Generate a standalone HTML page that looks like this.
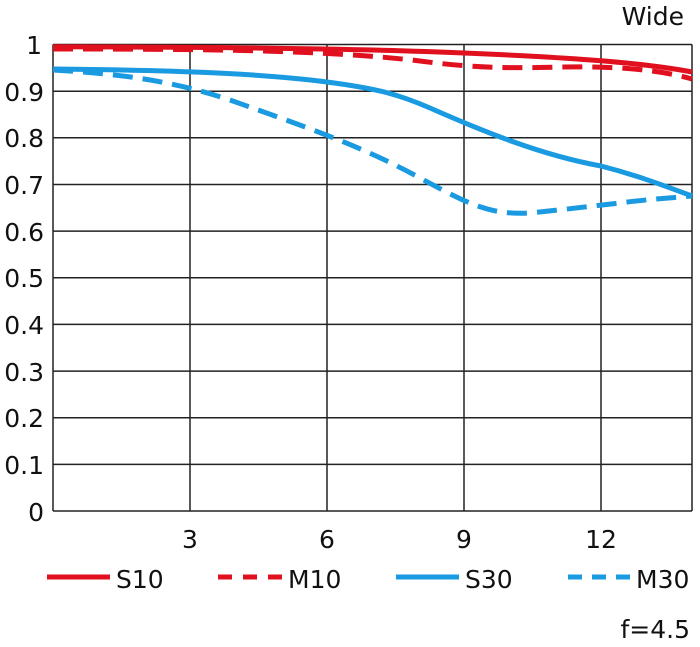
<!DOCTYPE html>
<html><head><style>body{margin:0;background:#fff}svg{display:block}</style></head><body>
<svg width="700" height="647" viewBox="0 0 700 647" xmlns="http://www.w3.org/2000/svg" font-family="'DejaVu Sans','Liberation Sans',sans-serif" font-size="25" fill="#111">
<g stroke="#222" stroke-width="1.5" fill="none">
<path d="M53 44.5H692M53 91.2H692M53 137.8H692M53 184.5H692M53 231.1H692M53 277.8H692M53 324.4H692M53 371.1H692M53 417.7H692M53 464.4H692M53 511H692"/>
<path d="M53 44.5V511M190 44.5V511M327 44.5V511M464 44.5V511M601 44.5V511M692 44.5V511"/>
</g>
<g text-anchor="end">
<text x="42" y="54">1</text><text x="44" y="101">0.9</text><text x="44" y="147">0.8</text><text x="44" y="194">0.7</text><text x="44" y="241">0.6</text><text x="44" y="287">0.5</text><text x="44" y="334">0.4</text><text x="44" y="381">0.3</text><text x="44" y="427">0.2</text><text x="44" y="474">0.1</text><text x="44" y="521">0</text>
</g>
<g text-anchor="middle"><text x="190" y="548">3</text><text x="327" y="548">6</text><text x="464" y="548">9</text><text x="601" y="548">12</text></g>
<text x="684" y="25" text-anchor="end">Wide</text>
<text x="690" y="638" text-anchor="end">f=4.5</text>
<g fill="none" stroke-width="5">
<path stroke="#e0101e" d="M53 46.8 C200 47,350 48,464 53 C560 57,640 62,692 72"/>
<path stroke="#e0101e" stroke-dasharray="20,10" d="M53 49 C200 49,330 50,420 61 C480 69,520 68,560 67 C620 66,660 70,692 79"/>
<path stroke="#1a9ae0" d="M53 69 C150 70,250 72,327 82 C380 89,400 95,430 108 C480 130,540 155,601 166 C640 176,670 188,692 196"/>
<path stroke="#1a9ae0" stroke-dasharray="20,10" d="M53 70 C120 74,170 80,230 100 C300 125,360 145,420 178 C470 205,490 215,530 213 C570 209,600 205,620 203 C650 199,670 198,692 196"/>
<path stroke="#e0101e" d="M47 577H110"/>
<path stroke="#e0101e" d="M218 577H282" stroke-dasharray="14,11"/>
<path stroke="#1a9ae0" d="M396 577H459"/>
<path stroke="#1a9ae0" d="M568 577H631" stroke-dasharray="14,10"/>
</g>
<text x="116" y="588">S10</text><text x="288" y="588">M10</text><text x="465" y="588">S30</text><text x="636" y="588">M30</text>
</svg>
</body></html>
